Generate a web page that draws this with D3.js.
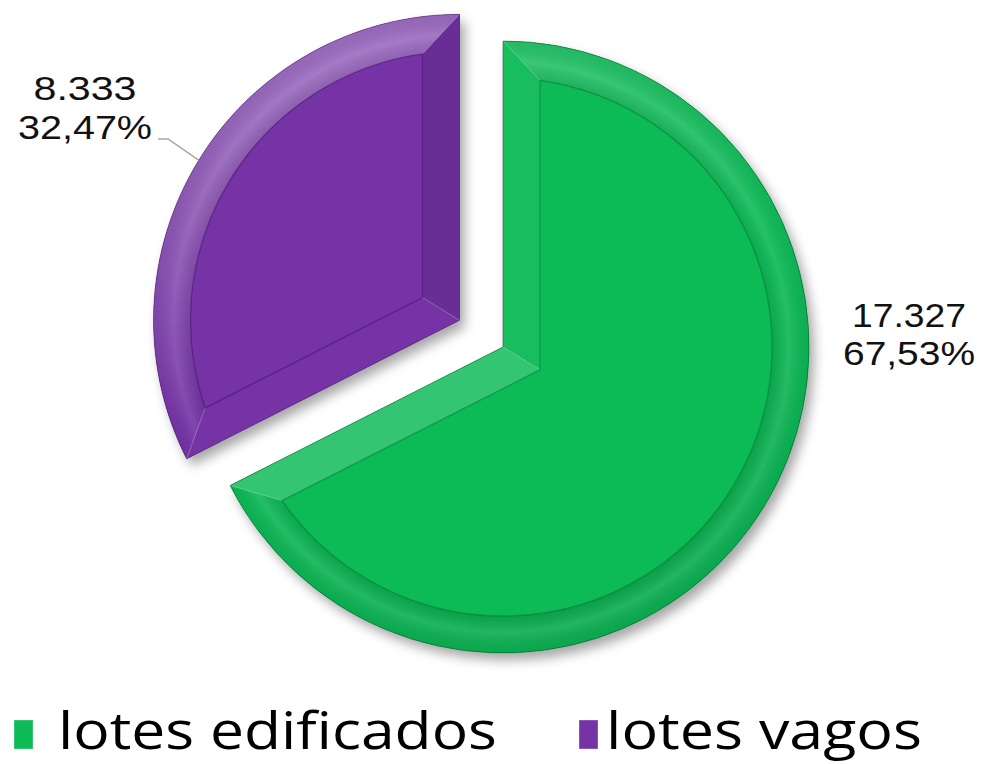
<!DOCTYPE html>
<html>
<head>
<meta charset="utf-8">
<script src="https://cdn.jsdelivr.net/npm/d3@7"></script>
<style>
  html, body { margin: 0; padding: 0; background: #fff; }
  svg { display: block; }
</style>
</head>
<body>
<svg id="chart" width="982" height="764"></svg>
<script>
// Lotes por situação
const categories = ["lotes edificados", "lotes vagos"];
const values = [17327, 8333];
const valueLabels = ["17.327", "8.333"];
const percentLabels = ["67,53%", "32,47%"];
const colors = ["#0cba56", "#7533a6"];

const svg = d3.select("#chart");
const cx = 503, cy = 347;
const R = 306;          // outer radius
const bevel = 37;       // bevel width
const explode = [0, 51];

const pie = d3.pie().sort(null).value(d => d);
const arcs = pie(values);

const defs = svg.append("defs");
const shadow = defs.append("filter").attr("id", "shadow")
  .attr("x", "-20%").attr("y", "-20%").attr("width", "140%").attr("height", "140%");
shadow.append("feDropShadow").attr("dx", 5).attr("dy", 7).attr("stdDeviation", 6)
  .attr("flood-color", "#000").attr("flood-opacity", 0.35);

const shade = (c, k) => k >= 0 ? d3.interpolateRgb(c, "#ffffff")(k) : d3.interpolateRgb(c, "#000000")(-k);
const unit = a => [Math.sin(a), -Math.cos(a)];
const light = (() => { const v = [-0.35, -0.94]; const m = Math.hypot(...v); return [v[0]/m, v[1]/m]; })();

// tints for the two straight bevel faces of each slice
const edgeTint = [
  { start: 0.05, end: 0.16 },
  { start: 0.0, end: -0.1 }
];

const outerArc = d3.arc().innerRadius(0).outerRadius(R);

arcs.forEach((d, i) => {
  const mid = (d.startAngle + d.endAngle) / 2;
  const off = unit(mid).map(v => v * explode[i]);
  const ox = cx + off[0], oy = cy + off[1];
  const g = svg.append("g").attr("transform", `translate(${ox},${oy})`);
  const base = colors[i];
  const a0 = d.startAngle, a1 = d.endAngle;

  // slice body with shadow
  g.append("path").attr("d", outerArc(d)).attr("fill", base).attr("filter", "url(#shadow)");

  // curved bevel band, lit by facing direction
  const steps = 160;
  for (let s = 0; s < steps; s++) {
    const t0 = a0 + (a1 - a0) * s / steps;
    const t1 = a0 + (a1 - a0) * (s + 1) / steps + 0.002;
    const n = unit((t0 + t1) / 2);
    const dot = n[0] * light[0] + n[1] * light[1];
    const k = dot > 0 ? dot * (i === 0 ? 0.12 : 0.28) : dot * 0.07;
    g.append("path")
      .attr("d", d3.arc().innerRadius(R - bevel).outerRadius(R).startAngle(t0).endAngle(Math.min(t1, a1))())
      .attr("fill", shade(base, k));
  }
  // soft ridge highlight along the middle of the band
  const rg = defs.append("radialGradient").attr("id", "ridge" + i)
    .attr("gradientUnits", "userSpaceOnUse").attr("cx", 0).attr("cy", 0).attr("r", R);
  rg.append("stop").attr("offset", (R - bevel) / R).attr("stop-color", "#000").attr("stop-opacity", 0.08);
  rg.append("stop").attr("offset", (R - bevel * 0.55) / R).attr("stop-color", "#fff").attr("stop-opacity", 0.10);
  rg.append("stop").attr("offset", 1).attr("stop-color", "#000").attr("stop-opacity", 0.04);
  g.append("path")
    .attr("d", d3.arc().innerRadius(R - bevel).outerRadius(R).startAngle(a0).endAngle(a1)())
    .attr("fill", `url(#ridge${i})`);

  // straight bevel faces, mitred into the curved band
  const u0 = unit(a0), u1 = unit(a1);
  const n0 = [Math.cos(a0), Math.sin(a0)];
  const n1 = [-Math.cos(a1), -Math.sin(a1)];
  // inner corner: intersection of the two offset edge lines
  const p0 = [bevel * n0[0], bevel * n0[1]];
  const p1 = [bevel * n1[0], bevel * n1[1]];
  const det = u0[0] * (-u1[1]) - u0[1] * (-u1[0]);
  const bx = p1[0] - p0[0], by = p1[1] - p0[1];
  const tt = (bx * (-u1[1]) - by * (-u1[0])) / det;
  const corner = [p0[0] + tt * u0[0], p0[1] + tt * u0[1]];
  const L = Math.sqrt((R - bevel) ** 2 - bevel ** 2);
  const in0 = [L * u0[0] + p0[0], L * u0[1] + p0[1]];
  const in1 = [L * u1[0] + p1[0], L * u1[1] + p1[1]];
  const out0 = [R * u0[0], R * u0[1]];
  const out1 = [R * u1[0], R * u1[1]];

  const poly = pts => "M" + pts.map(p => p.join(",")).join("L") + "Z";
  g.append("path").attr("d", poly([[0, 0], out0, in0, corner])).attr("fill", shade(base, edgeTint[i].start));
  g.append("path").attr("d", poly([[0, 0], corner, in1, out1])).attr("fill", shade(base, edgeTint[i].end));

  // mitre seams
  const seam = i === 0 ? "rgba(0,60,20,0.25)" : "rgba(40,0,70,0.3)";
  [[[0, 0], corner], [out0, in0], [out1, in1]].forEach(([p, q]) => {
    g.append("line").attr("x1", p[0]).attr("y1", p[1]).attr("x2", q[0]).attr("y2", q[1])
      .attr("stroke", "rgba(255,255,255,0.25)").attr("stroke-width", 1);
  });

  // flat inner face
  const ip = d3.path();
  ip.moveTo(corner[0], corner[1]);
  ip.lineTo(in0[0], in0[1]);
  ip.arc(0, 0, R - bevel, a0 + Math.asin(bevel / (R - bevel)) - Math.PI / 2,
         a1 - Math.asin(bevel / (R - bevel)) - Math.PI / 2, false);
  ip.lineTo(in1[0], in1[1]);
  ip.closePath();
  g.append("path").attr("d", ip.toString()).attr("fill", base)
    .attr("stroke", seam).attr("stroke-width", 1.4);

  // fine outer rim
  g.append("path").attr("d", outerArc(d)).attr("fill", "none")
    .attr("stroke", i === 0 ? "rgba(0,70,30,0.45)" : "rgba(50,10,80,0.4)").attr("stroke-width", 1);

  d.ox = ox; d.oy = oy; d.mid = mid;
});

// data labels: value on the first line, share on the second
const labelFont = "'Liberation Sans', Arial, sans-serif";
const legendFont = "'Open Sans', sans-serif";
const labelPos = [
  { x: 909, y1: 327, y2: 365, w1: 114, w2: 132 },
  { x: 85, y1: 100, y2: 139, w1: 103, w2: 134 }
];
arcs.forEach((d, i) => {
  const p = labelPos[i];
  const t = svg.append("text").attr("font-family", labelFont).attr("font-size", 33)
    .attr("fill", "#111").attr("text-anchor", "middle");
  t.append("tspan").attr("x", p.x).attr("y", p.y1).attr("textLength", p.w1)
    .attr("lengthAdjust", "spacingAndGlyphs").text(valueLabels[i]);
  t.append("tspan").attr("x", p.x).attr("y", p.y2).attr("textLength", p.w2)
    .attr("lengthAdjust", "spacingAndGlyphs").text(percentLabels[i]);
});

// leader line for the detached slice
{
  const d = arcs[1];
  const e = unit(d.mid);
  const ex = d.ox + e[0] * R, ey = d.oy + e[1] * R;
  svg.append("polyline")
    .attr("points", `${ex},${ey} 168,139 158,139`)
    .attr("fill", "none").attr("stroke", "#a6a6a6").attr("stroke-width", 1.5);
}

// legend
const legendItems = [
  { sx: 14, tx: 58, tw: 439 },
  { sx: 579, tx: 606, tw: 316 }
];
categories.forEach((c, i) => {
  const it = legendItems[i];
  svg.append("rect").attr("x", it.sx).attr("y", 720).attr("width", 19).attr("height", 29)
    .attr("fill", colors[i]);
  svg.append("rect").attr("x", it.sx).attr("y", 720).attr("width", 19).attr("height", 29)
    .attr("fill", "none").attr("stroke", "rgba(255,255,255,0.35)").attr("stroke-width", 1);
  svg.append("text").attr("x", it.tx).attr("y", 749)
    .attr("font-family", legendFont).attr("font-size", 51).attr("fill", "#000")
    .attr("textLength", it.tw).attr("lengthAdjust", "spacingAndGlyphs")
    .text(c);
});
</script>
</body>
</html>
